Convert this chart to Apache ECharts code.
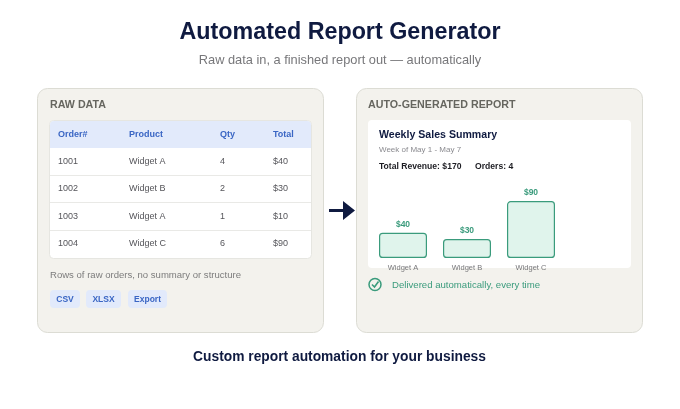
<!DOCTYPE html>
<html lang="en">
<head>
  <meta charset="UTF-8">
  <title>Automated Report Generator</title>
  <script src="https://cdn.jsdelivr.net/npm/echarts@6/dist/echarts.min.js"></script>
  <style>
    html, body { margin: 0; padding: 0; background: #fff; }
    #main { width: 680px; height: 409px; }
  </style>
</head>
<body>
<div id="main"></div>
<script>
var tableHeaders = ['Order#', 'Product', 'Qty', 'Total']
var orderIds = ['1001', '1002', '1003', '1004']
var orderProducts = ['Widget A', 'Widget B', 'Widget A', 'Widget C']
var orderQty = ['4', '2', '1', '6']
var orderTotals = ['$40', '$30', '$10', '$90']
var formatTags = ['CSV', 'XLSX', 'Export']
var barCategories = ['Widget A', 'Widget B', 'Widget C']
var barValues = [40, 30, 90]

var FONT = '"Liberation Sans", Arial, sans-serif'
var NAVY = '#0f1a40'
var GREEN = '#3a9b7c'
var BLUE = '#3a66c4'

function label(x, y, str, size, color, weight, align) {
  return {
    type: 'text', x: x, y: y, z: 5,
    style: {
      text: str, fontFamily: FONT, fontSize: size, fill: color,
      fontWeight: weight || 'normal', textAlign: align || 'left', textVerticalAlign: 'middle'
    }
  }
}

function box(x, y, w, h, r, fill, stroke, z) {
  return {
    type: 'rect', z: z || 1,
    shape: { x: x, y: y, width: w, height: h, r: r },
    style: { fill: fill, stroke: stroke || 'none', lineWidth: stroke ? 1 : 0 }
  }
}

var els = []

// headings
els.push(label(340, 33, 'Automated Report Generator', 23.3, NAVY, 'bold', 'center'))
els.push(label(340, 60, 'Raw data in, a finished report out \u2014 automatically', 12.8, '#77777a', 'normal', 'center'))
els.push(label(339.5, 357, 'Custom report automation for your business', 13.8, NAVY, 'bold', 'center'))

// panels
els.push(box(37.5, 88.5, 286, 244, 10, '#f3f2ed', '#dcdcd4'))
els.push(box(356.5, 88.5, 286, 244, 10, '#f3f2ed', '#dcdcd4'))
els.push(label(50, 105.5, 'RAW DATA', 10.7, '#66665f', 'bold'))
els.push(label(368, 105.5, 'AUTO-GENERATED REPORT', 10.7, '#66665f', 'bold'))

// raw table
var colX = [58, 129, 220, 273]
var rowY = [162, 189, 217, 244]
els.push(box(49.5, 120.5, 262, 138, 4, '#ffffff', '#e6e6e1', 2))
els.push(box(50, 121, 261, 27, [4, 4, 0, 0], '#e2eafb', null, 3))
tableHeaders.forEach(function (h, i) {
  els.push(label(colX[i], 134.5, h, 9, BLUE, 'bold'))
})
orderIds.forEach(function (id, i) {
  els.push(label(colX[0], rowY[i], id, 9, '#55555a'))
  els.push(label(colX[1], rowY[i], orderProducts[i], 9, '#55555a'))
  els.push(label(colX[2], rowY[i], orderQty[i], 9, '#55555a'))
  els.push(label(colX[3], rowY[i], orderTotals[i], 9, '#55555a'))
  if (i < orderIds.length - 1) {
    els.push({
      type: 'line', z: 3,
      shape: { x1: 50, y1: rowY[i] + 13.5, x2: 311, y2: rowY[i] + 13.5 },
      style: { stroke: '#e9e9e6', lineWidth: 1 }
    })
  }
})
els.push(label(50, 275, 'Rows of raw orders, no summary or structure', 9.55, '#7c7c7c'))

// format tags
var tagX = [50, 86, 128]
var tagW = [30, 35, 39]
formatTags.forEach(function (t, i) {
  els.push(box(tagX[i], 290, tagW[i], 18, 4, '#e2eafb', null, 2))
  els.push(label(tagX[i] + tagW[i] / 2, 299.5, t, 8.5, BLUE, 'bold', 'center'))
})

// arrow
els.push({
  type: 'polygon', z: 5,
  shape: { points: [[329, 209], [343, 209], [343, 201], [355, 210.5], [343, 220], [343, 212], [329, 212]] },
  style: { fill: NAVY }
})

// report card
els.push(box(368, 120, 263, 148, 4, '#ffffff', null, 2))
els.push(label(379, 135.5, 'Weekly Sales Summary', 10.6, NAVY, 'bold'))
els.push(label(379, 149.5, 'Week of May 1 - May 7', 8, '#8a8a8f'))
els.push(label(379, 166.5, 'Total Revenue: $170', 8.6, '#1c1c22', 'bold'))
els.push(label(475, 166.5, 'Orders: 4', 8.6, '#1c1c22', 'bold'))

// delivered note
els.push({
  type: 'circle', z: 5,
  shape: { cx: 375, cy: 284.5, r: 6 },
  style: { fill: 'none', stroke: GREEN, lineWidth: 1.5 }
})
els.push({
  type: 'polyline', z: 5,
  shape: { points: [[372, 284.5], [374.5, 287], [378.5, 281.5]] },
  style: { fill: 'none', stroke: GREEN, lineWidth: 1.6 }
})
els.push(label(392, 285.5, 'Delivered automatically, every time', 9.6, GREEN))

var myChart = echarts.init(document.getElementById('main'), null, { renderer: 'canvas' })
myChart.setOption({
  animation: false,
  backgroundColor: '#ffffff',
  graphic: { elements: els },
  grid: { left: 371, top: 194.8, width: 192, height: 63.2, containLabel: false },
  xAxis: {
    type: 'category',
    z: 20,
    data: barCategories,
    axisLine: { show: false },
    axisTick: { show: false },
    axisLabel: { color: '#77777a', fontFamily: FONT, fontSize: 7.5, margin: 6 }
  },
  yAxis: { type: 'value', min: 0, max: 100, show: false, splitLine: { show: false } },
  series: [{
    type: 'bar',
    data: barValues,
    barWidth: 48,
    z: 10,
    itemStyle: { color: '#e0f4ec', borderColor: GREEN, borderWidth: 1.2, borderRadius: 3 },
    label: {
      show: true, position: 'top', distance: 4,
      formatter: function (p) { return '$' + p.value },
      color: GREEN, fontFamily: FONT, fontSize: 8.5, fontWeight: 'bold'
    }
  }]
})
</script>
</body>
</html>
